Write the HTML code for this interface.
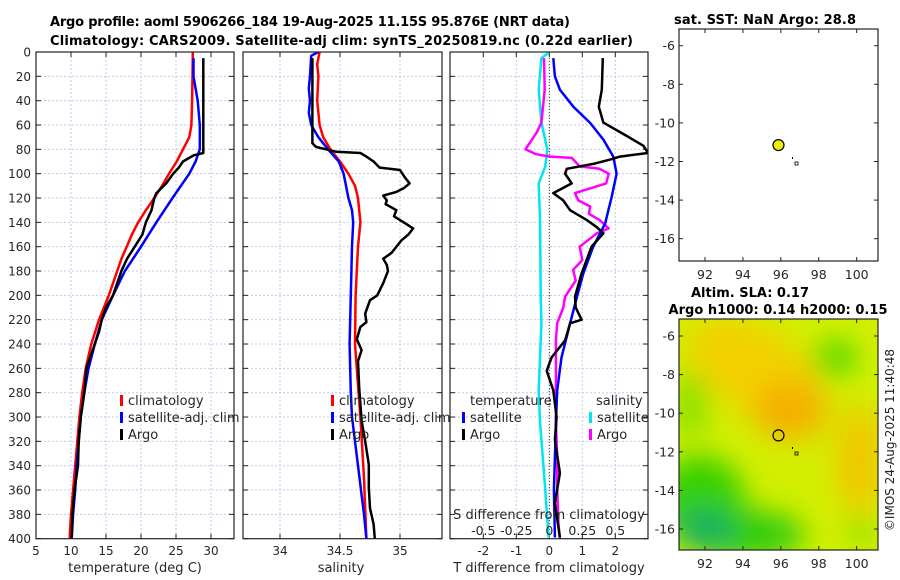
<!DOCTYPE html>
<html><head><meta charset="utf-8">
<style>
html,body{margin:0;padding:0;background:#fff;}
svg{display:block;font-family:"DejaVu Sans","Liberation Sans",sans-serif;}
</style></head>
<body>
<svg id="chart" width="900" height="580" viewBox="0 0 900 580" xmlns="http://www.w3.org/2000/svg">
<defs>
<filter id="blur" x="-50%" y="-50%" width="200%" height="200%"><feGaussianBlur stdDeviation="14"/></filter>
<clipPath id="clipSla"><rect x="679" y="319" width="199" height="231"/></clipPath>
<clipPath id="clipP1"><rect x="36" y="52" width="198" height="487"/></clipPath>
<clipPath id="clipP2"><rect x="243" y="52" width="199" height="487"/></clipPath>
<clipPath id="clipP3"><rect x="450" y="52" width="198" height="487"/></clipPath>
</defs>
<text x="50" y="26" font-size="13" font-weight="bold" textLength="520">Argo profile: aoml 5906266_184 19-Aug-2025 11.15S 95.876E (NRT data)</text>
<text x="50" y="45" font-size="13" font-weight="bold" textLength="583">Climatology: CARS2009. Satellite-adj clim: synTS_20250819.nc (0.22d earlier)</text>
<text x="765" y="24" font-size="13" font-weight="bold" text-anchor="middle" textLength="182">sat. SST: NaN Argo: 28.8</text>
<text x="750" y="297" font-size="13" font-weight="bold" text-anchor="middle" textLength="118">Altim. SLA: 0.17</text>
<text x="778" y="314" font-size="13" font-weight="bold" text-anchor="middle" textLength="219">Argo h1000: 0.14 h2000: 0.15</text>
<text transform="translate(894,440) rotate(-90)" font-size="12" text-anchor="middle" fill="#222">©IMOS 24-Aug-2025 11:40:48</text>
<g id="root"></g>
</svg>
<script>
// ---- depth grid & data ----
const depthTicks = [0,20,40,60,80,100,120,140,160,180,200,220,240,260,280,300,320,340,360,380,400];
// Panel 1 temperature
const tClimDepth = [0,20,40,60,70,80,90,100,110,120,130,140,150,160,170,180,190,200,220,240,260,280,300,320,340,360,380,400];
const tClim =      [27.4,27.35,27.3,27.2,26.9,26.0,25.1,24.0,23.0,21.9,20.7,19.6,18.7,17.96,17.2,16.6,16.0,15.4,14.0,12.9,12.1,11.6,11.2,10.9,10.6,10.3,10.0,9.8];
const tSatDepth = [5,20,40,60,80,90,100,120,140,160,180,200,220,240,260,280,300,320,340,360,380,400];
const tSat =      [27.5,27.5,28.1,28.4,28.4,27.8,26.9,24.5,22.2,20.0,17.7,16.0,14.4,13.4,12.5,11.9,11.4,11.1,10.8,10.6,10.3,10.1];
const tArgoDepth = [5,40,83,85,90,95,100,108,116,120,130,140,150,160,170,180,190,200,210,220,230,240,260,280,300,320,340,360,380,400];
const tArgo =      [28.9,28.9,28.9,27.5,26.0,25.4,24.6,23.6,22.2,21.9,21.5,20.7,20.2,19.1,18.0,17.2,16.6,16.0,15.0,14.4,14.0,13.4,12.2,11.9,11.4,11.1,11.0,10.5,10.2,10.1];
// Panel 2 salinity
const sClimDepth = [0,10,20,40,60,70,80,90,100,110,120,140,160,200,240,300,350,400];
const sClim =      [34.33,34.31,34.32,34.31,34.33,34.36,34.42,34.50,34.57,34.625,34.65,34.67,34.65,34.63,34.625,34.67,34.70,34.72];
const sSatDepth = [0,3,20,30,40,50,60,70,80,90,100,110,120,130,140,160,200,240,280,300,340,380,400];
const sSat =      [34.32,34.26,34.25,34.24,34.25,34.24,34.26,34.32,34.40,34.49,34.53,34.55,34.57,34.60,34.61,34.60,34.59,34.58,34.59,34.60,34.65,34.70,34.72];
const sArgoDepth = [5,75,78,82,83,86,90,95,97,103,108,112,115,118,122,125,130,135,140,145,150,155,165,170,175,180,190,200,204,215,222,226,236,245,254,276,303,320,339,358,375,388,400];
const sArgo =      [34.27,34.27,34.30,34.47,34.67,34.72,34.78,34.83,35.0,35.04,35.08,35.03,34.97,34.86,34.89,34.88,34.97,34.95,35.03,35.11,35.07,35.01,34.93,34.86,34.89,34.90,34.86,34.81,34.75,34.71,34.72,34.67,34.64,34.68,34.65,34.66,34.68,34.71,34.74,34.74,34.75,34.78,34.79];
// Panel 3 differences
const dTSatDepth = [5,20,31,45,58,72,86,100,119,141,160,182,200,223,251,278,305,333,360,399];
const dTSat =      [0.12,0.17,0.32,0.73,1.23,1.64,1.94,2.04,1.89,1.69,1.33,1.03,0.85,0.63,0.37,0.24,0.20,0.17,0.14,0.17];
const dTArgoDepth = [5,31,45,58,69,77,83,86,88,92,96,100,108,116,122,130,138,144,149,160,171,182,201,210,220,223,237,251,262,278,300,319,346,371,399];
const dTArgo =      [1.62,1.59,1.50,1.64,2.35,2.85,2.99,2.14,1.9,1.33,0.53,0.48,0.68,0.12,0.42,0.63,1.13,1.44,1.64,1.28,1.13,0.98,0.78,0.80,0.98,0.63,0.48,0.07,-0.08,0.12,0.22,0.17,0.32,0.17,0.32];
const dSArgoDepth = [5,31,58,66,80,84,86,87,94,96,100,108,116,122,127,133,138,145,149,160,171,179,188,201,210,223,237,251,278,305,333,360,388,400];
const dSArgo =      [-0.04,-0.035,-0.06,-0.095,-0.18,-0.10,0.005,0.17,0.23,0.38,0.45,0.43,0.195,0.22,0.31,0.30,0.38,0.45,0.36,0.23,0.25,0.18,0.20,0.12,0.106,0.06,0.05,0.05,0.05,0.05,0.06,0.06,0.07,0.08];
const dSSatDepth = [1,5,31,58,80,94,108,141,201,223,278,305,360,399];
const dSSat =      [-0.01,-0.06,-0.08,-0.06,-0.015,-0.03,-0.08,-0.07,-0.065,-0.06,-0.08,-0.07,-0.03,-0.005];
// Map data
const lonTicks = [92,94,96,98,100];
const latTicks = [-6,-8,-10,-12,-14,-16];
const argoLon = 95.876, argoLat = -11.15;

// ---- axis functions ----
const Y0 = 52, Y1 = 538.7;
const yD = d => Y0 + (Y1 - Y0) * d / 400;
const x1 = t => 36 + 7 * (t - 5);
const x2 = s => 280 + 120 * (s - 34);
const x3 = t => 549.3 + 33 * t;
const x3s = s => 549.3 + 132 * s;
const mapX = lon => 705 + (lon - 92) * 18.96;
const mapYTop = lat => 45.7 + (-6 - lat) * 19.3;
const mapYBot = lat => 336 + (-6 - lat) * 19.3;

const NS = 'http://www.w3.org/2000/svg';
const root = document.getElementById('root');
function mk(tag, attrs, parent) {
  const e = document.createElementNS(NS, tag);
  for (const k in attrs) e.setAttribute(k, attrs[k]);
  (parent || root).appendChild(e);
  return e;
}
function txt(x, y, s, size, anchor, parent) {
  const t = mk('text', {x: x, y: y, 'font-size': size, 'text-anchor': anchor || 'start', fill: '#262626'}, parent);
  t.textContent = s;
  return t;
}

function panel(name, left, right, xTicks, xfn, xLabels, showY) {
  const g = mk('g', {});
  
  
  xTicks.forEach(v => {
    const gl = mk('line', {x1: xfn(v), x2: xfn(v), y1: Y0, y2: Y1, stroke: '#c4c8e8', 'stroke-width': 1, 'stroke-dasharray': '2,2'}, g);
    
    
  });
  depthTicks.forEach(d => {
    if (d > 0 && d < 400) {
      const gl = mk('line', {x1: left, x2: right, y1: yD(d), y2: yD(d), stroke: '#c4c8e8', 'stroke-width': 1, 'stroke-dasharray': '2,2'}, g);
      
      
    }
    mk('line', {x1: left, x2: left + 5, y1: yD(d), y2: yD(d), stroke: '#222'}, g);
    mk('line', {x1: right - 5, x2: right, y1: yD(d), y2: yD(d), stroke: '#222'}, g);
    if (showY) {
      const t = txt(left - 5, yD(d) + 4.5, String(d), 12, 'end', g);
      
      
    }
  });
  xTicks.forEach((v, i) => {
    mk('line', {x1: xfn(v), x2: xfn(v), y1: Y1, y2: Y1 - 5, stroke: '#222'}, g);
    mk('line', {x1: xfn(v), x2: xfn(v), y1: Y0, y2: Y0 + 5, stroke: '#222'}, g);
    const t = txt(xfn(v), 555, xLabels[i], 12, 'middle', g);
    
    
  });
  return g;
}
function line(xs, ds, xfn, color, w, clip, name) {
  const pts = xs.map((v, i) => xfn(v).toFixed(1) + ',' + yD(ds[i]).toFixed(1)).join(' ');
  const p = mk('polyline', {points: pts, fill: 'none', stroke: color, 'stroke-width': w, 'stroke-linejoin': 'round', 'clip-path': 'url(#' + clip + ')'});
  
  
  return p;
}
function frame(x, y, w, h, name) {
  const r = mk('rect', {x: x, y: y, width: w, height: h, fill: 'none', stroke: '#222', 'stroke-width': 1.2});
  
  
}
function legendEntry(x, y, color, label, name) {
  mk('rect', {x: x, y: y - 10, width: 3, height: 11, fill: color});
  const t = txt(x + 8, y, label, 13, 'start');
  
  
}

// Panel 1
panel('temperature-panel', 36, 234, [5,10,15,20,25,30], x1, ['5','10','15','20','25','30'], true);
line(tClim, tClimDepth, x1, '#ff0000', 2.5, 'clipP1', 'temperature-climatology-line');
line(tSat, tSatDepth, x1, '#0000ff', 2.5, 'clipP1', 'temperature-satellite-line');
line(tArgo, tArgoDepth, x1, '#000000', 2.5, 'clipP1', 'temperature-argo-line');
frame(36, Y0, 198, Y1 - Y0, 'temperature-axes-frame');
let t1 = txt(135, 572, 'temperature (deg C)', 13, 'middle');  
legendEntry(120, 405, '#ff0000', 'climatology', 'legend-entry-climatology');
legendEntry(120, 422, '#0000ff', 'satellite-adj. clim', 'legend-entry-satellite-adj');
legendEntry(120, 439, '#000000', 'Argo', 'legend-entry-argo');

// Panel 2
mk('rect', {x: 243, y: Y0, width: 199, height: Y1 - Y0, fill: '#fff'});
panel('salinity-panel', 243, 442, [34,34.5,35], x2, ['34','34.5','35'], false);
line(sClim, sClimDepth, x2, '#ff0000', 2.5, 'clipP2', 'salinity-climatology-line');
line(sSat, sSatDepth, x2, '#0000ff', 2.5, 'clipP2', 'salinity-satellite-line');
line(sArgo, sArgoDepth, x2, '#000000', 2.5, 'clipP2', 'salinity-argo-line');
frame(243, Y0, 199, Y1 - Y0, 'salinity-axes-frame');
let t2 = txt(341, 572, 'salinity', 13, 'middle');  
legendEntry(331, 405, '#ff0000', 'climatology', 'legend-entry-climatology-2');
legendEntry(331, 422, '#0000ff', 'satellite-adj. clim', 'legend-entry-satellite-adj-2');
legendEntry(331, 439, '#000000', 'Argo', 'legend-entry-argo-2');

// Panel 3
mk('rect', {x: 450, y: Y0, width: 198, height: Y1 - Y0, fill: '#fff'});
panel('difference-panel', 450, 648, [-2,-1,0,1,2], x3, ['-2','-1','0','1','2'], false);
const zl = mk('line', {x1: x3(0), x2: x3(0), y1: Y0, y2: Y1, stroke: '#333', 'stroke-width': 1, 'stroke-dasharray': '1,2'});


line(dSSat, dSSatDepth, x3s, '#00e5ee', 2.5, 'clipP3', 'salinity-diff-satellite-line');
line(dSArgo, dSArgoDepth, x3s, '#ff00ff', 2.5, 'clipP3', 'salinity-diff-argo-line');
line(dTSat, dTSatDepth, x3, '#0000ff', 2.5, 'clipP3', 'temperature-diff-satellite-line');
line(dTArgo, dTArgoDepth, x3, '#000000', 2.5, 'clipP3', 'temperature-diff-argo-line');
frame(450, Y0, 198, Y1 - Y0, 'difference-axes-frame');
let t3 = txt(549, 572, 'T difference from climatology', 13, 'middle');  
let t4 = txt(549, 519, 'S difference from climatology', 13, 'middle');  
const sTicks = [-0.5,-0.25,0,0.25,0.5];
const sTickLabels = ['-0.5','-0.25','0','0.25','0.5'];
sTicks.forEach((v, i) => {
  const t = txt(x3s(v), 535, sTickLabels[i], 12.5, 'middle');
  
  
});
let lt = txt(470, 405, 'temperature', 13, 'start');  
let ls = txt(596, 405, 'salinity', 13, 'start');  
legendEntry(462, 422, '#0000ff', 'satellite', 'legend-entry-t-satellite');
legendEntry(462, 439, '#000000', 'Argo', 'legend-entry-t-argo');
legendEntry(589, 422, '#00e5ee', 'satellite', 'legend-entry-s-satellite');
legendEntry(589, 439, '#ff00ff', 'Argo', 'legend-entry-s-argo');

// Maps
function mapAxes(top, bottom, yfn, name, labelY) {
  const g = mk('g', {});
  
  
  lonTicks.forEach(v => {
    mk('line', {x1: mapX(v), x2: mapX(v), y1: bottom, y2: bottom - 4, stroke: '#222'}, g);
    mk('line', {x1: mapX(v), x2: mapX(v), y1: top, y2: top + 4, stroke: '#222'}, g);
    const t = txt(mapX(v), labelY, String(v), 12.5, 'middle', g);
    
    
  });
  latTicks.forEach(v => {
    mk('line', {x1: 679, x2: 683, y1: yfn(v), y2: yfn(v), stroke: '#222'}, g);
    mk('line', {x1: 874, x2: 878, y1: yfn(v), y2: yfn(v), stroke: '#222'}, g);
    const t = txt(675, yfn(v) + 4.5, String(v), 12.5, 'end', g);
    
    
  });
}
// SST map
frame(679, 29, 199, 232, 'sst-map-frame');
mapAxes(29, 261, mapYTop, 'sst-map-axes', 279);
const c1 = mk('circle', {cx: mapX(argoLon), cy: mapYTop(argoLat), r: 5.5, fill: '#f0f000', stroke: '#000', 'stroke-width': 1.2});


mk('rect', {x: 792, y: 157, width: 1, height: 2, fill: '#000'});
mk('rect', {x: 795, y: 162, width: 3, height: 3, fill: 'none', stroke: '#000', 'stroke-width': 0.8});

// SLA map
const slaG = mk('g', {'clip-path': 'url(#clipSla)'});


mk('rect', {x: 679, y: 319, width: 199, height: 231, fill: '#d2ef00'}, slaG);
const blobs = mk('g', {filter: 'url(#blur)'}, slaG);
mk('ellipse', {cx: 755, cy: 370, rx: 75, ry: 42, fill: '#f2d000', transform: 'rotate(30 755 370)'}, blobs);
mk('ellipse', {cx: 790, cy: 410, rx: 38, ry: 30, fill: '#f5b000'}, blobs);
mk('ellipse', {cx: 860, cy: 460, rx: 25, ry: 55, fill: '#f0c800'}, blobs);
mk('ellipse', {cx: 700, cy: 500, rx: 45, ry: 45, fill: '#38d000'}, blobs);
mk('ellipse', {cx: 745, cy: 535, rx: 60, ry: 25, fill: '#30cc10'}, blobs);
mk('ellipse', {cx: 705, cy: 530, rx: 30, ry: 22, fill: '#14b060'}, blobs);
mk('ellipse', {cx: 690, cy: 405, rx: 18, ry: 35, fill: '#8ce000'}, blobs);
mk('ellipse', {cx: 835, cy: 358, rx: 22, ry: 18, fill: '#50d800'}, blobs);
mk('ellipse', {cx: 862, cy: 530, rx: 15, ry: 10, fill: '#70dc00'}, blobs);
frame(679, 319, 199, 231, 'sla-map-frame');
mapAxes(319, 550, mapYBot, 'sla-map-axes', 568);
const c2 = mk('circle', {cx: mapX(argoLon), cy: mapYBot(argoLat), r: 5.5, fill: 'none', stroke: '#000', 'stroke-width': 1.2});


mk('rect', {x: 792, y: 447, width: 1, height: 2, fill: '#000'});
mk('rect', {x: 795, y: 452, width: 3, height: 3, fill: 'none', stroke: '#000', 'stroke-width': 0.8});
</script>
</body></html>
